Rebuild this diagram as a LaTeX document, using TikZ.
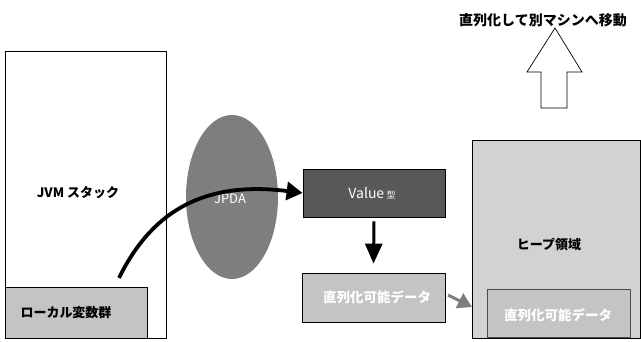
\documentclass[tikz,border=0pt]{standalone}
\usepackage{fontspec}
\setmainfont{Noto Sans CJK JP}
\usetikzlibrary{arrows.meta,shapes.geometric}
\definecolor{lgray}{HTML}{C4C4C4}
\definecolor{hgray}{HTML}{D2D2D2}
\definecolor{egray}{HTML}{7E7E7E}
\definecolor{dgray}{HTML}{585858}
\begin{document}
\begin{tikzpicture}[x=1pt,y=-1pt,
  box/.style={draw=black,line width=0.8pt,rectangle,inner sep=0pt},
  lbl/.style={font=\bfseries\fontsize{13}{13}\selectfont,inner sep=0pt},
  wlbl/.style={lbl,text=white},
  thickarr/.style={line width=3.8pt,-{Triangle[length=16pt,width=18pt]}}]
\useasboundingbox (0,0) rectangle (641,342);
% title and hollow arrow
\node[font=\bfseries\fontsize{14}{14}\selectfont,inner sep=0pt] (title) at (543,20) {直列化して別マシンへ移動};
\draw[line width=0.7pt,fill=white] (541,108) -- (541,72) -- (527,72) -- (555,28) -- (582,72) -- (567,72) -- (567,108) -- cycle;
% JVM stack
\node[box,fill=white,minimum width=161pt,minimum height=287pt] (jvm) at (85.5,194.5) {};
\node[lbl] (jvmt) at (78,193) {JVM スタック};
\node[box,fill=lgray,minimum width=142pt,minimum height=51pt] (local) at (76,312.5) {};
\node[lbl] (localt) at (66,313) {ローカル変数群};
% JPDA
\node[ellipse,fill=egray,minimum width=92pt,minimum height=164pt,inner sep=0pt] (jpda) at (232,197) {};
\node[text=white,font=\fontsize{13}{13}\selectfont,inner sep=0pt] (jpdat) at (230,199) {JPDA};
% Value box
\node[box,fill=dgray,minimum width=142pt,minimum height=48pt] (value) at (374,193) {};
\node[inner sep=0pt,text=white] (valuet) at (372,193) {\fontsize{14}{14}\selectfont Value\,\fontsize{9}{9}\selectfont 型};
% serializable 1
\node[box,fill=lgray,minimum width=143pt,minimum height=49pt] (ser1) at (373.5,297.5) {};
\node[wlbl,font=\bfseries\fontsize{13.5}{13.5}\selectfont] (ser1t) at (377,297) {直列化可能データ};
% heap
\node[box,fill=hgray,minimum width=168pt,minimum height=198pt] (heap) at (556,239) {};
\node[lbl] (heapt) at (549,245) {ヒープ領域};
\node[draw=black!70,line width=0.6pt,fill=lgray,minimum width=143pt,minimum height=48pt,inner sep=0pt] (ser2) at (558.5,313) {};
\node[wlbl,font=\bfseries\fontsize{13.5}{13.5}\selectfont] (ser2t) at (558,315) {直列化可能データ};
% connectors
\coordinate (cstart) at (119,278);
\coordinate (gstart) at (448,295);
\coordinate (gend) at (472,307);
\draw[thickarr] (cstart) .. controls (150,215) and (200,180) .. (value.west);
\draw[line width=3pt,-{Triangle[length=20pt,width=17pt]}] ([yshift=-4pt]value.south) -- ([yshift=9pt]ser1.north);
\draw[line width=3pt,draw=gray,-{Triangle[length=14pt,width=16pt,color=egray,fill=egray]}] (gstart) -- (gend);
\end{tikzpicture}
\end{document}
